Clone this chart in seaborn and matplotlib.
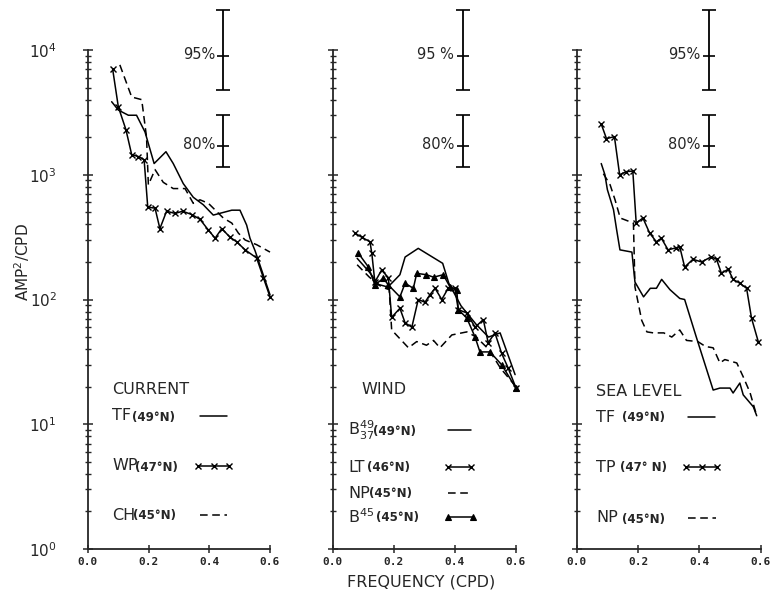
import numpy as np
import pandas as pd
import seaborn as sns
import matplotlib.pyplot as plt
from matplotlib.lines import Line2D
from matplotlib.ticker import FixedLocator, NullFormatter

# ---- data (freq in CPD, spectral level in AMP^2/CPD) ----
# current
cur_tf_f = [0.078, 0.10, 0.133, 0.16, 0.188, 0.218, 0.257, 0.281, 0.314, 0.347, 0.38, 0.413,
            0.474, 0.501, 0.523, 0.534, 0.551, 0.575, 0.6]
cur_tf_v = [3850, 3300, 3000, 3000, 2200, 1230, 1530, 1230, 850, 660, 575, 475,
            520, 520, 395, 310, 245, 165, 109]
cur_wp_f = [0.081, 0.10, 0.125, 0.144, 0.166, 0.185, 0.197, 0.221, 0.237, 0.259, 0.287, 0.312,
            0.342, 0.369, 0.397, 0.419, 0.441, 0.468, 0.49, 0.518, 0.556, 0.578, 0.6]
cur_wp_v = [7100, 3500, 2300, 1450, 1400, 1320, 550, 540, 370, 510, 490, 510,
            480, 440, 360, 310, 370, 316, 290, 250, 215, 150, 105]
cur_ch_f = [0.105, 0.144, 0.177, 0.193, 0.199, 0.221, 0.248, 0.281, 0.32, 0.347, 0.369, 0.397,
            0.446, 0.474, 0.496, 0.518, 0.556, 0.6]
cur_ch_v = [7600, 4200, 4000, 2000, 830, 1100, 870, 775, 775, 590, 630, 590,
            450, 410, 340, 300, 275, 240]

# wind
wnd_b49_f = [0.08, 0.12, 0.15, 0.18, 0.193, 0.22, 0.237, 0.28, 0.36, 0.38, 0.42, 0.47, 0.51, 0.548, 0.597]
wnd_b49_v = [214, 166, 132, 126, 135, 158, 219, 257, 195, 135, 89, 63, 50, 54, 25]
wnd_lt_f = [0.073, 0.095, 0.122, 0.128, 0.138, 0.16, 0.182, 0.193, 0.22, 0.237, 0.259, 0.28, 0.302,
            0.318, 0.335, 0.357, 0.378, 0.40, 0.411, 0.439, 0.466, 0.493, 0.509, 0.531, 0.553, 0.575, 0.6]
wnd_lt_v = [340, 316, 290, 235, 138, 172, 150, 72, 85, 65, 60, 100, 95,
            109, 123, 100, 123, 123, 83, 78, 60, 69, 45, 54, 37, 28, 19.5]
wnd_np_f = [0.08, 0.12, 0.16, 0.185, 0.193, 0.248, 0.275, 0.307, 0.33, 0.351, 0.39, 0.439, 0.47,
            0.51, 0.55, 0.6]
wnd_np_v = [190, 151, 126, 120, 57, 41, 46, 43, 47, 41, 52, 55, 50, 40, 28, 20]
wnd_b45_f = [0.084, 0.117, 0.138, 0.166, 0.182, 0.22, 0.237, 0.264, 0.275, 0.307, 0.33, 0.362,
             0.384, 0.406, 0.411, 0.439, 0.466, 0.482, 0.515, 0.553, 0.6]
wnd_b45_v = [235, 182, 131, 148, 131, 105, 135, 123, 162, 158, 151, 158,
             126, 120, 83, 71, 50, 38, 38, 30, 19.5]

# sea level
sea_tf_f = [0.08, 0.092, 0.10, 0.12, 0.13, 0.141, 0.18, 0.19, 0.218, 0.24, 0.26, 0.277, 0.304,
            0.336, 0.352, 0.39, 0.445, 0.467, 0.5, 0.51, 0.532, 0.543, 0.576, 0.587]
sea_tf_v = [1230, 1000, 760, 525, 365, 250, 240, 138, 105, 123, 123, 145, 120,
            102, 100, 50, 18.8, 19.5, 19.5, 17.8, 21.4, 17.2, 13.8, 11.7]
sea_tp_f = [0.08, 0.097, 0.123, 0.14, 0.162, 0.183, 0.194, 0.216, 0.238, 0.26, 0.276, 0.298,
            0.325, 0.336, 0.352, 0.379, 0.407, 0.439, 0.456, 0.472, 0.494, 0.51, 0.532, 0.554,
            0.57, 0.592]
sea_tp_v = [2550, 1950, 2020, 1000, 1060, 1070, 410, 450, 340, 290, 310, 250,
            260, 265, 182, 210, 200, 220, 210, 162, 175, 145, 135, 123, 71, 46]
sea_np_f = [0.087, 0.109, 0.125, 0.142, 0.185, 0.19, 0.212, 0.229, 0.25, 0.284, 0.31, 0.336,
            0.358, 0.395, 0.42, 0.445, 0.467, 0.483, 0.522, 0.543, 0.565, 0.587]
sea_np_v = [1020, 830, 630, 450, 410, 126, 68, 55, 54, 54, 50, 57,
            47, 46, 42, 41, 31, 33, 31, 24, 18, 11.7]

# confidence bars: lower, centre, upper
ci95 = [4800, 8900, 21000]
ci80 = [1160, 1700, 3000]
ci_x = [0.446, 0.4255, 0.431]
ci95_labels = ['95%', '95 %', '95%']

titles = ['CURRENT', 'WIND', 'SEA LEVEL']

sns.set_style('ticks')
plt.rcParams['font.family'] = ['DejaVu Sans']

fig = plt.figure(figsize=(7.73, 6.01), dpi=100)


def px(x, y):
    return x / 773, 1 - y / 601


SOLID = dict(color='black', lw=1.1)
XLINE = dict(color='black', lw=1.1, marker='x', ms=4.5, mew=1.0, mec='black')
DASH = dict(color='black', lw=1.1, linestyle=(0, (5, 3)))
TRI = dict(color='black', lw=1.1, marker='^', ms=5, mec='black', mew=0.8)

panels = [
    [(cur_tf_f, cur_tf_v, SOLID), (cur_wp_f, cur_wp_v, XLINE), (cur_ch_f, cur_ch_v, DASH)],
    [(wnd_b49_f, wnd_b49_v, SOLID), (wnd_lt_f, wnd_lt_v, XLINE), (wnd_np_f, wnd_np_v, DASH),
     (wnd_b45_f, wnd_b45_v, TRI)],
    [(sea_tf_f, sea_tf_v, SOLID), (sea_tp_f, sea_tp_v, XLINE), (sea_np_f, sea_np_v, DASH)],
]

lefts = [88, 332.7, 576.7]
widths = [182, 183.3, 184]
bottom = 1 - 549 / 601
top = 1 - 5.1 / 601

minor_vals = [m * 10 ** e for e in range(4) for m in range(2, 10)]

for i, series in enumerate(panels):
    ax = fig.add_axes([lefts[i] / 773, bottom, widths[i] / 773, top - bottom])
    for f, v, st in series:
        df = pd.DataFrame({'freq': f, 'amp': v})
        sns.lineplot(data=df, x='freq', y='amp', ax=ax, sort=False, estimator=None,
                     clip_on=False, **st)
    ax.set_yscale('log')
    ax.set_ylim(1, 10 ** 4.36)
    ax.set_xlim(0, 0.6)
    ax.set_xlabel('')
    ax.set_ylabel('')
    for s in ['top', 'right']:
        ax.spines[s].set_visible(False)
    ax.spines['left'].set_bounds(1, 1e4)
    ax.spines['left'].set_linewidth(1.3)
    ax.spines['bottom'].set_linewidth(1.3)
    ax.set_yticks([1, 10, 100, 1000, 10000])
    ax.yaxis.set_minor_locator(FixedLocator(minor_vals))
    ax.yaxis.set_minor_formatter(NullFormatter())
    ax.set_xticks([0.0, 0.2, 0.4, 0.6])
    ax.set_xticklabels(['0.0', '0.2', '0.4', '0.6'], fontfamily='DejaVu Sans Mono',
                       fontweight='bold', fontsize=8)
    ax.tick_params(axis='y', which='major', direction='inout', length=7, width=1.1, pad=19,
                   labelsize=11, labelleft=(i == 0))
    ax.tick_params(axis='y', which='minor', direction='inout', length=5, width=1.0)
    ax.tick_params(axis='x', which='major', direction='inout', length=6, width=1.1, pad=3)
    ax.patch.set_alpha(0)

    # confidence bars
    for ci, lab in [(ci95, ci95_labels[i]), (ci80, '80%')]:
        ax.errorbar([ci_x[i]], [ci[1]], yerr=[[ci[1] - ci[0]], [ci[2] - ci[1]]],
                    fmt='_', color='black', ms=9, mew=1.2, elinewidth=1.3,
                    capsize=5, capthick=1.3, clip_on=False)
        ax.annotate(lab, (ci_x[i], ci[1]), xytext=(-6, 1), textcoords='offset points',
                    ha='right', va='center', fontsize=10.5)

# ---- hand-drawn key text and line samples ----
fig.text(*px(112, 390), titles[0], fontsize=11.5, va='center')
fig.text(*px(361.7, 390), titles[1], fontsize=11.5, va='center')
fig.text(*px(596, 391), titles[2], fontsize=11.5, va='center')

keys = [
    # (abbr, x, sub, x_sub, y, style, line x0, x1, n markers)
    ('TF', 112, '(49°N)', 132, 416, SOLID, 200, 227, 2),
    ('WP', 112, '(47°N)', 135, 466, XLINE, 198, 229, 3),
    ('CH', 112, '(45°N)', 133, 515, DASH, 200, 227, 2),
    (r'B$^{49}_{37}$', 348, '(49°N)', 373, 430, SOLID, 448, 471, 2),
    ('LT', 348, '(46°N)', 367, 467, XLINE, 448, 471, 2),
    ('NP', 348, '(45°N)', 369, 493, DASH, 448, 471, 2),
    (r'B$^{45}$', 348, '(45°N)', 376, 517, TRI, 448, 473, 2),
    ('TF', 596, '(49°N)', 622, 417, SOLID, 688, 715, 2),
    ('TP', 596, '(47° N)', 620, 467, XLINE, 686, 717, 3),
    ('NP', 596, '(45°N)', 622, 518, DASH, 688, 716, 2),
]
for abbr, xa, sub, xs, y, st, x0, x1, n in keys:
    fig.text(*px(xa, y), abbr, fontsize=11.5, va='center')
    fig.text(*px(xs, y + 1), sub, fontsize=8.5, fontweight='bold', va='center')
    xs_line = list(np.linspace(x0, x1, n) / 773)
    ys_line = [1 - y / 601] * n
    fig.add_artist(Line2D(xs_line, ys_line, transform=fig.transFigure, **st))

fig.text(*px(22, 262), 'AMP$^2$/CPD', rotation=90, fontsize=11, ha='center', va='center')
fig.text(*px(421, 582), 'FREQUENCY (CPD)', fontsize=11.5, ha='center', va='center')

fig.savefig('out.png', dpi=100)
